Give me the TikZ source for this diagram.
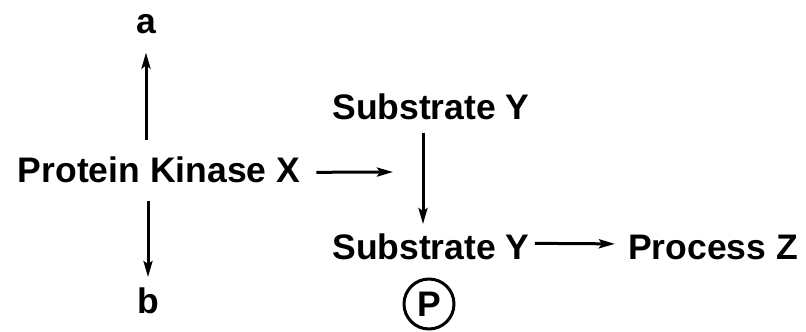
\documentclass[tikz,border=0pt]{standalone}
\usepackage{fontspec}
\setmainfont{Liberation Sans}
\usetikzlibrary{arrows.meta}
\begin{document}
\begin{tikzpicture}[x=1pt,y=1pt,
  lbl/.style={inner sep=0pt,anchor=base,font=\fontsize{35.5}{40}\selectfont\bfseries},
  arr/.style={line width=3pt,-{Stealth[length=16pt,width=9pt,inset=3pt]}},
  pcirc/.style={circle,draw,line width=3pt,minimum size=50pt,inner sep=0pt,font=\fontsize{35.5}{40}\selectfont\bfseries}]
\useasboundingbox (0,0) rectangle (806,-332);
\node[lbl] (pkx) at (159,-182) {Protein Kinase X};
\node[lbl] (a) at (146,-33) {a};
\node[lbl] (b) at (148,-313) {b};
\node[lbl] (sy1) at (431,-119) {Substrate Y};
\node[lbl] (sy2) at (431,-259) {Substrate Y};
\node[lbl] (pz) at (713,-259) {Process Z};
\node[pcirc] (p) at (429,-304) {P};
\coordinate (hit) at (423,-172);
\draw[arr,shorten <=16pt,shorten >=19pt] (pkx.north -| a.south) -- (a.south);
\draw[arr,shorten <=18pt,shorten >=10pt] (pkx.south -| b.north) -- (b.north);
\draw[arr] ([xshift=16pt,yshift=-3pt]pkx.east) -- ([xshift=-30pt]hit);
\draw[arr,shorten <=13pt,shorten >=9pt] ([xshift=-8pt]sy1.south) -- ([xshift=-8pt]sy2.north);
\draw[arr,shorten <=5pt,shorten >=13pt] ([yshift=3pt]sy2.east) -- ([yshift=3pt]pz.west);
\end{tikzpicture}
\end{document}
